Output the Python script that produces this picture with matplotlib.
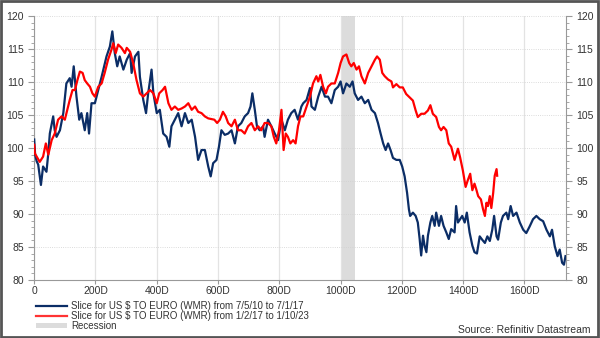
import matplotlib
matplotlib.use('Agg')
import matplotlib.pyplot as plt
from matplotlib.patches import Rectangle, Patch
from matplotlib.lines import Line2D
from matplotlib.ticker import MultipleLocator, FuncFormatter

plt.rcParams['font.family'] = ['Liberation Sans', 'DejaVu Sans']

# 数据：按天数读取的两段汇率切片
blue_days = [0, 3, 8, 13, 22, 29, 40, 46, 51, 62, 67, 73, 84, 95, 105, 116, 122, 129, 138, 147,
             154, 165, 173, 179, 187, 198, 209, 220, 236, 247, 255, 263, 271, 279, 291, 302, 313, 318,
             329, 340, 345, 356, 365, 372, 383, 389, 400, 410, 421, 432, 441, 448, 459, 470, 481,
             492, 503, 514, 525, 535, 546, 557, 568, 576, 584, 595, 603, 611, 622, 633, 644, 655,
             665, 676, 687, 698, 706, 712, 720, 727, 736, 747, 752, 763, 774, 785, 796, 807, 818,
             828, 839, 850, 861, 872, 878, 889, 900, 905, 916, 927, 938, 949, 959, 970, 981, 992,
             1000, 1008, 1019, 1030, 1039, 1046, 1057, 1068, 1079, 1090, 1101, 1112, 1122, 1130,
             1139, 1147, 1155, 1163, 1171, 1182, 1193, 1201, 1209, 1217, 1223, 1227, 1236, 1245,
             1252, 1258, 1263, 1269, 1274, 1280, 1285, 1293, 1299, 1307, 1312, 1321, 1328, 1336,
             1345, 1353, 1361, 1372, 1377, 1383, 1390, 1397, 1405, 1412, 1421, 1430, 1437, 1445,
             1454, 1462, 1471, 1479, 1487, 1495, 1501, 1509, 1514, 1523, 1530, 1541, 1547, 1555,
             1563, 1574, 1585, 1596, 1606, 1617, 1628, 1639, 1650, 1661, 1672, 1683, 1690, 1699,
             1708, 1715, 1723, 1729, 1734]
blue_vals = [101.3, 99.0, 98.0, 97.5, 94.4, 97.2, 96.4, 99.2, 102.2, 104.8, 102.7, 101.7, 102.7, 105.3,
             109.8, 110.6, 109.3, 112.4, 107.8, 104.3, 105.3, 102.7, 105.3, 102.2, 106.8, 106.8, 108.8,
             110.8, 113.9, 115.4, 117.7, 114.4, 112.4, 113.9, 111.9, 113.4, 114.4, 111.4, 113.9, 114.6,
             110.8, 107.3, 105.3, 108.3, 111.9, 108.3, 105.3, 105.8, 102.2, 101.7, 100.2, 103.3, 104.3,
             105.3, 103.3, 105.3, 103.8, 104.3, 101.7, 98.2, 99.7, 99.7, 97.2, 95.7, 97.7, 98.2, 100.2,
             102.7, 102.0, 102.2, 102.7, 100.7, 103.3, 103.8, 104.8, 105.3, 106.3, 108.3, 105.8, 103.3,
             102.7, 103.3, 101.7, 104.3, 103.3, 102.2, 101.2, 104.3, 102.7, 104.3, 105.3, 105.8, 104.3,
             106.3, 106.8, 107.3, 109.1, 106.3, 105.8, 107.8, 109.3, 107.8, 107.8, 106.8, 108.8, 109.3,
             110.1, 108.3, 109.8, 109.3, 110.1, 108.3, 107.3, 107.8, 106.8, 107.3, 105.8, 105.3, 103.8,
             102.3, 100.7, 99.7, 100.7, 99.7, 98.5, 98.2, 98.2, 97.2, 95.7, 93.2, 90.7, 89.7, 90.2, 89.7,
             88.7, 86.2, 83.7, 86.7, 85.2, 84.2, 86.7, 88.7, 89.7, 88.2, 90.2, 88.2, 89.7, 88.2, 87.2,
             86.2, 87.7, 87.2, 91.2, 88.7, 89.2, 89.7, 88.7, 90.2, 87.2, 85.2, 84.2, 84.0, 86.6, 86.1,
             85.6, 86.6, 85.9, 87.6, 89.7, 86.6, 86.1, 88.7, 89.7, 90.2, 89.2, 91.2, 89.7, 90.2, 88.7,
             87.6, 87.1, 88.1, 89.2, 89.7, 89.2, 88.9, 87.6, 86.6, 87.6, 85.1, 83.6, 84.6, 82.6, 82.3,
             83.6]

red_days = [0, 2, 8, 18, 29, 38, 46, 57, 67, 78, 89, 100, 108, 116, 125, 133, 141, 149, 158, 165, 173,
            182, 190, 198, 209, 220, 230, 241, 252, 258, 266, 274, 285, 296, 302, 313, 323, 334, 345,
            356, 367, 378, 389, 400, 408, 419, 427, 438, 448, 459, 470, 481, 492, 503, 514, 525, 535,
            546, 557, 568, 578, 588, 597, 606, 616, 625, 633, 644, 655, 665, 676, 687, 698, 709, 720,
            731, 741, 752, 763, 774, 782, 790, 799, 807, 814, 821, 828, 836, 845, 853, 861, 869, 878,
            889, 900, 910, 921, 927, 934, 943, 952, 959, 970, 981, 992, 1000, 1008, 1019, 1028, 1035,
            1043, 1052, 1060, 1068, 1079, 1090, 1101, 1112, 1119, 1128, 1136, 1144, 1155, 1166, 1171,
            1182, 1193, 1203, 1214, 1225, 1236, 1245, 1252, 1263, 1274, 1285, 1293, 1301, 1312, 1321,
            1328, 1336, 1345, 1353, 1361, 1372, 1383, 1390, 1399, 1408, 1415, 1423, 1430, 1437, 1443,
            1449, 1458, 1465, 1471, 1476, 1481, 1487, 1492, 1498, 1503, 1509, 1511]
red_vals = [100.5, 99.2, 98.7, 97.9, 98.7, 100.7, 99.0, 101.2, 102.2, 104.3, 104.8, 104.3, 105.8, 107.3,
            108.8, 108.8, 110.3, 111.6, 111.4, 110.3, 109.8, 109.3, 108.3, 107.8, 109.3, 109.8, 111.4,
            113.4, 114.9, 115.9, 114.4, 115.7, 115.2, 114.4, 115.2, 114.6, 112.9, 110.3, 108.3, 107.8,
            108.3, 108.8, 108.3, 106.8, 108.3, 108.8, 109.3, 106.8, 105.8, 106.3, 105.8, 106.0, 106.3,
            106.8, 105.8, 106.3, 105.5, 105.3, 104.8, 104.5, 104.4, 104.3, 103.8, 104.3, 105.5, 104.8,
            103.8, 103.3, 104.3, 102.7, 102.7, 102.2, 103.3, 103.8, 102.7, 103.3, 102.7, 103.8, 103.8,
            103.3, 101.7, 100.7, 102.7, 105.8, 99.7, 102.2, 101.7, 100.7, 101.2, 100.7, 103.3, 104.8,
            104.8, 106.3, 107.8, 109.8, 110.9, 110.1, 111.1, 109.3, 108.3, 109.3, 109.8, 109.8, 111.4,
            112.9, 113.9, 114.2, 112.9, 112.4, 112.9, 111.9, 112.4, 110.9, 109.8, 111.4, 112.4, 113.4,
            113.9, 113.4, 111.4, 110.9, 110.4, 110.1, 109.2, 109.7, 109.2, 109.2, 108.2, 107.7, 107.2,
            105.7, 104.7, 105.2, 105.2, 105.7, 106.5, 105.2, 104.7, 103.2, 102.7, 103.2, 102.7, 100.7,
            100.2, 98.2, 99.9, 98.6, 96.6, 94.1, 95.1, 96.1, 93.6, 94.6, 93.7, 92.7, 92.2, 90.7, 89.7,
            91.7, 91.2, 92.7, 90.9, 93.2, 95.8, 96.8, 95.8]

recession = (1006, 1046)
x_ticks = [0, 200, 400, 600, 800, 1000, 1200, 1400, 1600]

blue_label = 'Slice for US $ TO EURO (WMR) from 7/5/10 to 7/1/17'
red_label = 'Slice for US $ TO EURO (WMR) from 1/2/17 to 1/10/23'

fig = plt.figure(figsize=(6, 3.38), dpi=100)
ax = fig.add_axes([0.057, 0.172, 0.886, 0.780])

ax.axvspan(recession[0], recession[1], color='#dcdcdc', lw=0, zorder=0)
ax.plot(blue_days, blue_vals, color='#0b2d66', lw=1.6, zorder=3)
ax.plot(red_days, red_vals, color='#ff0000', lw=1.6, zorder=3)

ax.set_xlim(0, 1735)
ax.set_ylim(80, 120)
ax.set_xticks(x_ticks)
ax.xaxis.set_major_formatter(FuncFormatter(lambda v, p: '0' if v == 0 else f'{int(v)}D'))
ax.yaxis.set_major_locator(MultipleLocator(5))
ax.yaxis.set_minor_locator(MultipleLocator(1))

# 网格：竖线实线，横线虚线
ax.grid(axis='x', color='#e3e3e3', lw=0.9, ls='-', zorder=0)
ax.grid(axis='y', color='#d0d0d0', lw=0.6, ls=':', zorder=0)

for s in ['left', 'right', 'bottom']:
    ax.spines[s].set_color('#999999')
ax.spines['top'].set_visible(False)
ax.tick_params(axis='y', which='both', left=True, right=True, labelleft=True, labelright=True,
               colors='#999999', labelcolor='#333333', labelsize=7.5)
ax.tick_params(axis='y', which='major', length=4)
ax.tick_params(axis='y', which='minor', length=2)
ax.tick_params(axis='x', colors='#999999', labelcolor='#333333', labelsize=7.5, length=3, pad=1.5)

handles = [Line2D([], [], color='#0b2d66', lw=1.6),
           Line2D([], [], color='#ff3333', lw=1.6),
           Patch(facecolor='#dcdcdc', edgecolor='none')]
fig.legend(handles, [blue_label, red_label, 'Recession'], loc='upper left',
           bbox_to_anchor=(0.052, 0.124), frameon=False, fontsize=7, handlelength=3.2,
           handleheight=0.5, labelspacing=0.0, borderpad=0, handletextpad=0.4, labelcolor='#333333')

fig.text(0.985, 0.008, 'Source: Refinitiv Datastream', ha='right', va='bottom', fontsize=7.5,
         color='#333333')

# 外框
fig.patches.append(Rectangle((0.002, 0.003), 0.995, 0.994, transform=fig.transFigure, fill=False,
                             edgecolor='#555555', lw=2))

plt.savefig('out.png', dpi=100)
